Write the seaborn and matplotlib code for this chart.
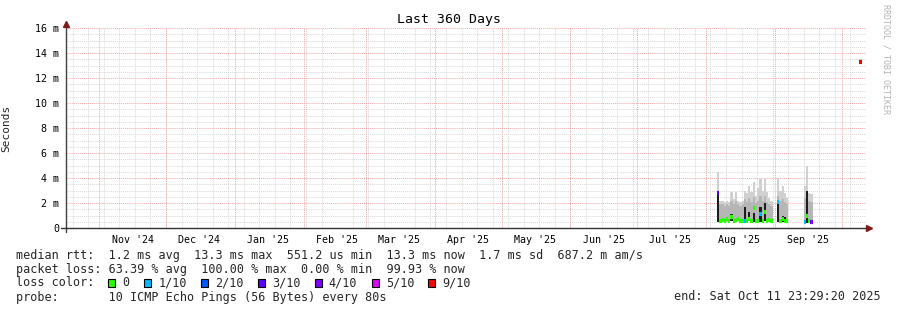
import numpy as np
import pandas as pd
import matplotlib
matplotlib.use("Agg")
import matplotlib.pyplot as plt
import matplotlib.dates as mdates
from matplotlib.ticker import MultipleLocator, FuncFormatter
from matplotlib.patches import Rectangle
import seaborn as sns

# ---------------- data ----------------
title = "Last 360 Days"
end_time = pd.Timestamp("2025-10-11 23:29:20")
span_days = 360
data_start = pd.Timestamp("2025-08-06")
day_offset = list(range(0, 25)) + list(range(27, 32)) + list(range(39, 43)) + [64]

# smoke envelope (ms): min ping, middle band top, max ping
smoke_min = [0.50, 0.55, 0.60, 0.55, 0.50, 0.60, 0.55, 0.50, 0.60, 0.55, 0.50, 0.55, 0.45,
             0.50, 0.55, 0.50, 0.45, 0.55, 0.50, 0.45, 0.50, 0.55, 0.50, 0.55, 0.60,
             0.50, 0.45, 0.50, 0.55, 0.50,
             0.35, 0.40, 0.45, 0.50,
             13.15]
smoke_mid = [2.9, 1.9, 1.9, 1.8, 1.9, 1.8, 2.2, 1.9, 2.2, 1.9, 1.8, 1.9, 2.3,
             2.1, 2.4, 2.1, 2.5, 2.0, 2.2, 2.6, 2.2, 2.6, 2.1, 1.9, 1.8,
             2.6, 2.2, 2.3, 2.1, 1.9,
             2.4, 3.0, 2.2, 2.1,
             13.35]
smoke_max = [4.5, 2.2, 2.2, 2.1, 2.2, 2.1, 2.9, 2.3, 2.9, 2.2, 2.1, 2.2, 3.0,
             2.8, 3.4, 2.9, 3.7, 2.6, 3.2, 3.9, 3.0, 3.9, 2.9, 2.4, 2.2,
             4.0, 3.0, 3.4, 2.8, 2.4,
             3.4, 5.0, 2.8, 2.7,
             13.50]
dense_top = [2.8, 0, 0, 0, 0, 0, 1.1, 0, 0, 0, 0, 0, 1.7,
             0, 1.3, 0, 1.2, 0, 0, 1.7, 0, 2.0, 0, 0, 0,
             1.9, 0, 1.0, 0.9, 0,
             0, 3.0, 0, 0,
             0]
median_rtt = [2.8, 0.60, 0.65, 0.60, 0.75, 0.60, 0.90, 0.60, 0.65, 0.70, 0.55, 0.60, 0.60,
              0.60, 0.70, 0.60, 1.60, 0.55, 0.60, 1.10, 0.60, 1.30, 0.60, 0.65, 0.55,
              2.10, 0.60, 0.70, 0.60, 0.55,
              0.45, 1.00, 0.60, 0.50,
              13.30]
lost_pings = [3, 0, 0, 0, 0, 0, 0, 0, 0, 0, 0, 0, 1,
              0, 0, 0, 0, 0, 0, 1, 0, 0, 0, 0, 0,
              1, 0, 0, 0, 0,
              1, 0, 0, 4,
              9]

loss_labels = ["0", "1/10", "2/10", "3/10", "4/10", "5/10", "9/10"]
loss_counts = [0, 1, 2, 3, 4, 5, 9]
loss_colors = ["#26ff00", "#00b8ff", "#0059ff", "#5e00ff", "#7e00ff", "#dd00ff", "#ff0000"]

stats_lines = [
    "median rtt:  1.2 ms avg  13.3 ms max  551.2 us min  13.3 ms now  1.7 ms sd  687.2 m am/s",
    "packet loss: 63.39 % avg  100.00 % max  0.00 % min  99.93 % now",
]
probe_line = "probe:       10 ICMP Echo Pings (56 Bytes) every 80s"
end_line = "end: Sat Oct 11 23:29:20 2025"

# ---------------- style ----------------
sns.set_style("white")
plt.rcParams["font.family"] = ["DejaVu Sans Mono", "DejaVu Sans"]

W, H = 897, 310
fig = plt.figure(figsize=(W / 100, H / 100), dpi=100)
fig.patch.set_facecolor("white")
ax = fig.add_axes([66 / W, 82 / H, 800 / W, 200 / H])
ax.set_facecolor("white")

start_time = end_time - pd.Timedelta(days=span_days)
x0 = mdates.date2num(start_time)
x1 = mdates.date2num(end_time)

df = pd.DataFrame({
    "date": [data_start + pd.Timedelta(days=d) for d in day_offset],
    "smin": smoke_min, "smid": smoke_mid, "smax": smoke_max,
    "dense": dense_top, "median": median_rtt, "loss": lost_pings,
})
df["x"] = mdates.date2num(df["date"])

# smoke layers
ax.bar(df["x"], df["smax"] - df["smin"], bottom=df["smin"], width=1.0, align="edge",
       color="#d0d0d0", linewidth=0, zorder=3)
ax.bar(df["x"], df["smid"] - df["smin"], bottom=df["smin"], width=1.0, align="edge",
       color="#b6b6b6", linewidth=0, zorder=4)
dd = df[df["dense"] > 0]
ax.bar(dd["x"], dd["dense"] - dd["smin"], bottom=dd["smin"], width=1.0, align="edge",
       color="#1c1c1c", linewidth=0, zorder=5)

# median line colored by loss
cmap = dict(zip(loss_counts, loss_colors))
ax.hlines(df["median"], df["x"], df["x"] + 1.0,
          colors=[cmap[v] for v in df["loss"]], linewidth=3.0, zorder=6)

ax.set_xlim(x0, x1)
ax.set_ylim(0, 16)

# grid
gray_grid = "#d9d9d9"
pink_grid = "#f5a8a8"
ax.yaxis.set_major_locator(MultipleLocator(2))
ax.yaxis.set_minor_locator(MultipleLocator(0.5))
ax.yaxis.set_major_formatter(FuncFormatter(lambda v, p: "0" if v == 0 else f"{v:g} m"))
ax.grid(which="minor", axis="y", color=gray_grid, linestyle=(0, (1, 1)), linewidth=0.7, zorder=0)
ax.grid(which="major", axis="y", color=pink_grid, linestyle=(0, (1, 1)), linewidth=0.7, zorder=1)

ax.xaxis.set_major_locator(mdates.MonthLocator(bymonthday=16))
ax.xaxis.set_major_formatter(mdates.DateFormatter("%b '%y"))
ax.xaxis.set_minor_locator(mdates.WeekdayLocator(byweekday=mdates.SU))
ax.grid(which="minor", axis="x", color=gray_grid, linestyle=(0, (1, 1)), linewidth=0.7, zorder=0)
ax.grid(which="major", axis="x", visible=False)
month_starts = mdates.MonthLocator(bymonthday=1).tick_values(start_time, end_time)
month_starts = [m for m in month_starts if x0 < m < x1]
ax.vlines(month_starts, 0, 16, colors=pink_grid, linestyles=(0, (1, 1)), linewidth=0.7, zorder=1)

ax.tick_params(axis="y", which="major", length=3, width=0.8, color="#777777",
               labelsize=7.2, pad=2, labelcolor="#000000")
ax.tick_params(axis="y", which="minor", length=0)
ax.tick_params(axis="x", which="major", length=0, labelsize=7.2, pad=5, labelcolor="#000000")
ax.tick_params(axis="x", which="minor", length=2, color="#bbbbbb")

for s in ax.spines.values():
    s.set_visible(False)
# axes lines with arrows
ax.plot([0, 0], [-0.02, 1.0], color="#404040", lw=1.0, transform=ax.transAxes, clip_on=False, zorder=7)
ax.plot([-0.006, 1.004], [0, 0], color="#303030", lw=1.0, transform=ax.transAxes, clip_on=False, zorder=7)
ax.plot([0], [1.02], marker="^", ms=4.5, color="#7f1a1a", transform=ax.transAxes, clip_on=False, zorder=8)
ax.plot([1.004], [0], marker=">", ms=4.5, color="#7f1a1a", transform=ax.transAxes, clip_on=False, zorder=8)

ax.set_ylabel("Seconds", fontsize=8, labelpad=0)
ax.yaxis.set_label_coords(-55 / 800, 0.5)

# title & watermark
fig.text(0.5, 1 - 19 / H, title, ha="center", va="center", fontsize=9.5, color="#000000")
fig.text(886 / W, 1 - 59 / H, "RRDTOOL / TOBI OETIKER", rotation=270, ha="center", va="center",
         fontsize=6, color="#b4b4b4")

# legend block
cw = 7.11
lx = 16
def fy(y):
    return 1 - y / H

fig.text(lx / W, fy(255), stats_lines[0], ha="left", va="center", fontsize=8.5)
fig.text(lx / W, fy(269), stats_lines[1], ha="left", va="center", fontsize=8.5)
fig.text(lx / W, fy(283), "loss color:", ha="left", va="center", fontsize=8.5)
col = 13
for lab, c in zip(loss_labels, loss_colors):
    sx = lx + col * cw
    fig.add_artist(Rectangle((sx / W, fy(283) - 4 / H), 7 / W, 8 / H, transform=fig.transFigure,
                             facecolor=c, edgecolor="#000000", linewidth=0.8))
    fig.text((lx + (col + 2) * cw) / W, fy(283), lab, ha="left", va="center", fontsize=8.5)
    col += 2 + len(lab) + 2
fig.text(lx / W, fy(297), probe_line, ha="left", va="center", fontsize=8.5)
fig.text(881 / W, fy(297), end_line, ha="right", va="center", fontsize=8.5)

fig.savefig("out.png", dpi=100, facecolor="white")
